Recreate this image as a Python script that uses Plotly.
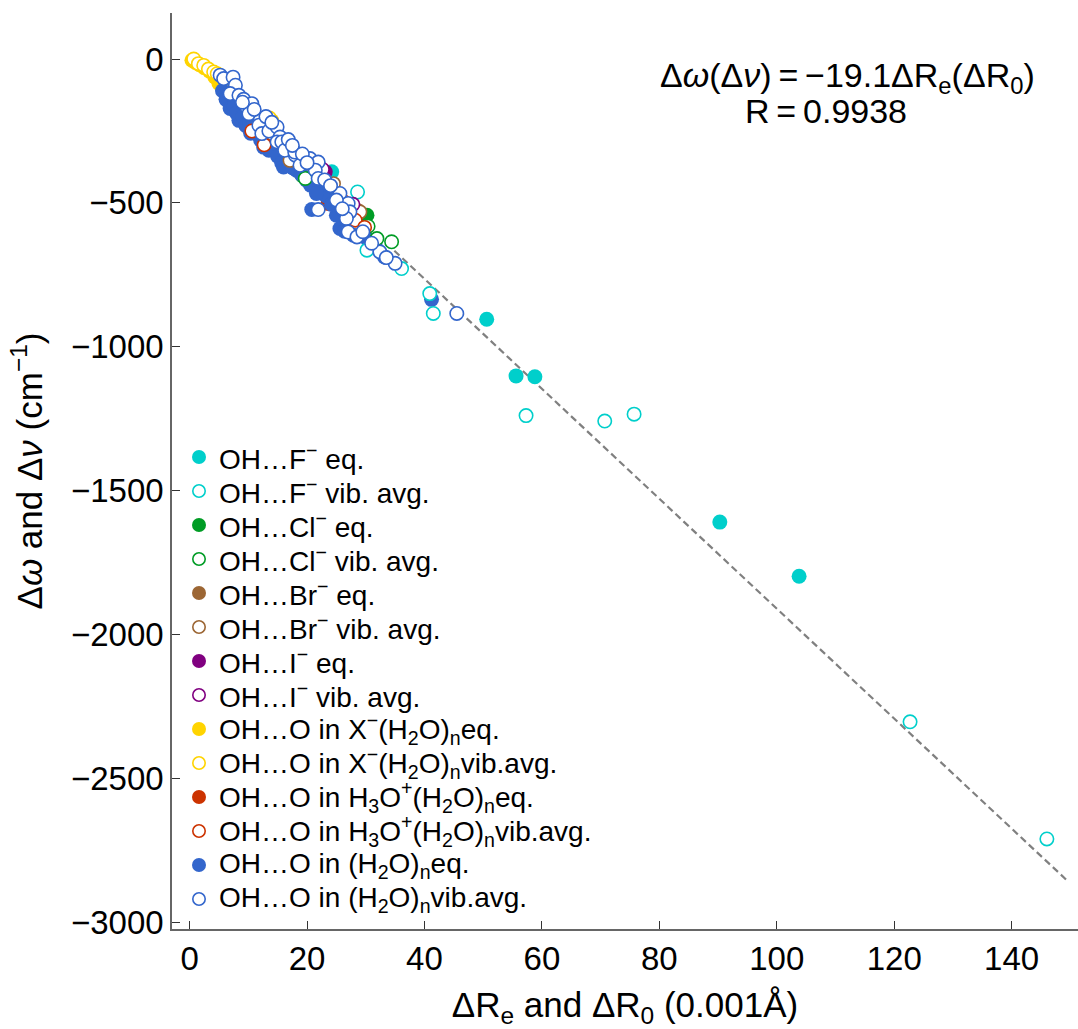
import plotly.graph_objects as go

# ---- Fitted relation: Δω = -19.1 ΔR ----
FIT_SLOPE = -19.1
FIT_X = [33.5, 149.5]

# ---- OH...F- ----
F_EQ_X = [24.2, 50.6, 55.6, 58.8, 90.3, 103.8]
F_EQ_Y = [-392, -904, -1101, -1104, -1609, -1797]
F_VIB_X = [28.6, 30.2, 36.1, 40.9, 41.5, 57.3, 70.7, 75.7, 122.7, 146.0]
F_VIB_Y = [-462, -664, -728, -815, -884, -1239, -1258, -1234, -2303, -2710]

# ---- OH...Cl- ----
CL_EQ_X = [19.2, 24.8, 30.2]
CL_EQ_Y = [-405, -480, -543]
CL_VIB_X = [19.7, 30.4, 31.9, 34.4]
CL_VIB_Y = [-415, -581, -624, -635]

# ---- OH...Br- ----
BR_EQ_X = [16.8, 24.0, 28.5]
BR_EQ_Y = [-345, -440, -525]
BR_VIB_X = [17.1, 24.5, 29.0, 14.2]
BR_VIB_Y = [-352, -433, -531, -262]

# ---- OH...I- ----
I_EQ_X = [23.1, 16.2]
I_EQ_Y = [-392, -330]
I_VIB_X = [22.6, 27.8]
I_VIB_Y = [-383, -505]

# ---- OH...O in X-(H2O)n ----
X_EQ_X = [0.4, 1.0, 1.7, 2.5, 3.4, 4.3, 5.0, 6.2, 14.0, 19.6]
X_EQ_Y = [-4, -12, -20, -30, -42, -62, -85, -100, -215, -395]
X_VIB_X = [0.7, 1.5, 2.4, 3.2, 4.1, 4.7, 13.6]
X_VIB_Y = [0, -16, -22, -35, -45, -51, -205]

# ---- OH...O in H3O+(H2O)n ----
H3O_EQ_X = [10.3, 12.9, 23.6, 26.8, 9.6]
H3O_EQ_Y = [-242, -294, -502, -520, -228]
H3O_VIB_X = [28.2, 10.6, 12.7, 26.2, 29.8]
H3O_VIB_Y = [-560, -250, -298, -495, -585]

# ---- OH...O in (H2O)n ----
H2O_EQ_X = [5.6, 6.2, 6.9, 7.6, 8.4, 8.0, 9.1, 9.6, 10.4, 11.2, 12.1, 12.6, 13.5,
            14.3, 15.0, 15.7, 16.0, 16.8, 17.6, 18.2, 19.0, 19.9, 20.6, 21.6, 22.4,
            23.2, 20.8, 21.6, 24.2, 25.0, 25.6, 26.4, 27.9, 30.2, 31.6, 33.2, 41.2,
            10.2, 13.2, 17.2, 25.2, 27.2]
H2O_EQ_Y = [-110, -140, -172, -165, -213, -188, -200, -232, -258, -250, -282, -306, -317,
            -300, -338, -362, -375, -352, -378, -386, -400, -421, -438, -450, -458,
            -475, -523, -467, -505, -543, -589, -598, -612, -624, -652, -688, -835,
            -215, -272, -330, -512, -560]
H2O_VIB_X = [5.2, 5.8, 7.4, 7.8, 6.9, 8.4, 9.2, 9.8, 10.6, 10.1, 12.0, 11.8, 12.3, 13.5,
             14.9, 15.4, 14.9, 15.7, 16.2, 18.0, 17.9, 18.8, 20.5, 21.9, 21.4, 21.9,
             21.9, 25.6, 27.0, 27.3, 26.7, 27.0, 28.5, 32.4, 35.0, 45.5,
             9.0, 11.0, 13.0, 14.0, 16.8, 17.5, 19.2, 20.0, 23.0, 24.0, 25.0, 26.0,
             29.5, 31.0, 33.5]
H2O_VIB_Y = [-56, -68, -63, -91, -120, -126, -140, -170, -155, -190, -213, -230, -259, -250,
             -236, -271, -288, -288, -317, -334, -323, -369, -346, -358, -386, -415,
             -523, -467, -502, -531, -554, -601, -618, -670, -710, -884,
             -150, -175, -200, -220, -280, -300, -330, -360, -420, -440, -490, -520,
             -600, -640, -690]

SERIES_NAMES = [
    "OH…F<sup>−</sup> eq.",
    "OH…F<sup>−</sup> vib. avg.",
    "OH…Cl<sup>−</sup> eq.",
    "OH…Cl<sup>−</sup> vib. avg.",
    "OH…Br<sup>−</sup> eq.",
    "OH…Br<sup>−</sup> vib. avg.",
    "OH…I<sup>−</sup> eq.",
    "OH…I<sup>−</sup> vib. avg.",
    "OH…O in X<sup>−</sup>(H<sub>2</sub>O)<sub>n</sub>eq.",
    "OH…O in X<sup>−</sup>(H<sub>2</sub>O)<sub>n</sub>vib.avg.",
    "OH…O in H<sub>3</sub>O<sup>+</sup>(H<sub>2</sub>O)<sub>n</sub>eq.",
    "OH…O in H<sub>3</sub>O<sup>+</sup>(H<sub>2</sub>O)<sub>n</sub>vib.avg.",
    "OH…O in (H<sub>2</sub>O)<sub>n</sub>eq.",
    "OH…O in (H<sub>2</sub>O)<sub>n</sub>vib.avg.",
]

X_TICKS = [0, 20, 40, 60, 80, 100, 120, 140]
Y_TICKS = [0, -500, -1000, -1500, -2000, -2500, -3000]

CYAN = "#00CFCB"
GREEN = "#009C25"
BROWN = "#9C6634"
PURPLE = "#800080"
GOLD = "#FFD400"
RED = "#CC3300"
BLUE = "#3366CC"

# legend order
series = [
    (F_EQ_X, F_EQ_Y, CYAN, True),
    (F_VIB_X, F_VIB_Y, CYAN, False),
    (CL_EQ_X, CL_EQ_Y, GREEN, True),
    (CL_VIB_X, CL_VIB_Y, GREEN, False),
    (BR_EQ_X, BR_EQ_Y, BROWN, True),
    (BR_VIB_X, BR_VIB_Y, BROWN, False),
    (I_EQ_X, I_EQ_Y, PURPLE, True),
    (I_VIB_X, I_VIB_Y, PURPLE, False),
    (X_EQ_X, X_EQ_Y, GOLD, True),
    (X_VIB_X, X_VIB_Y, GOLD, False),
    (H3O_EQ_X, H3O_EQ_Y, RED, True),
    (H3O_VIB_X, H3O_VIB_Y, RED, False),
    (H2O_EQ_X, H2O_EQ_Y, BLUE, True),
    (H2O_VIB_X, H2O_VIB_Y, BLUE, False),
]

FONT = "Liberation Sans, Arial, sans-serif"
W, H = 1078, 1029
M_L, M_R, M_T, M_B = 172, 0, 13, 100
PW, PH = W - M_L - M_R, H - M_T - M_B
THIN = "\u2009"


def marker_style(color, filled, size=15):
    if filled:
        return dict(size=size, color=color, line=dict(width=0))
    return dict(size=size - 1.6, color="white", line=dict(color=color, width=1.6))


fig = go.Figure()

# dashed fit line, drawn beneath the markers
fig.add_trace(go.Scatter(
    x=FIT_X, y=[FIT_SLOPE * v for v in FIT_X], mode="lines",
    line=dict(color="#808080", width=2.2, dash="7px,4px"),
    showlegend=False, hoverinfo="skip"))

# equilibrium (filled) sets first, vibrationally averaged (open) sets on top
draw_order = [i for i in range(len(series)) if series[i][3]] + \
             [i for i in range(len(series)) if not series[i][3]]
for i in draw_order:
    xs, ys, color, filled = series[i]
    fig.add_trace(go.Scatter(
        x=xs, y=ys, mode="markers", name=SERIES_NAMES[i],
        marker=marker_style(color, filled), showlegend=False))

# legend, laid out on an overlay axis in unit coordinates
LEG_X_PX = 199
LEG_TOP_PX = 457
LEG_STEP_PX = 34
annotations = []
for i, ((xs, ys, color, filled), name) in enumerate(zip(series, SERIES_NAMES)):
    ypx = LEG_TOP_PX + LEG_STEP_PX * i
    yp = (H - M_B - ypx) / PH
    xp = (LEG_X_PX - M_L) / PW
    fig.add_trace(go.Scatter(
        x=[xp], y=[yp], mode="markers", xaxis="x2", yaxis="y2",
        marker=marker_style(color, filled, size=14),
        showlegend=False, hoverinfo="skip"))
    annotations.append(dict(
        x=(LEG_X_PX + 18 - M_L) / PW, y=yp, xref="paper", yref="paper",
        xanchor="left", yanchor="middle", showarrow=False, text=name,
        font=dict(family=FONT, size=28, color="black")))

annotations.append(dict(
    x=(847 - M_L) / PW, y=(H - M_B - 77) / PH, xref="paper", yref="paper",
    xanchor="center", yanchor="middle", showarrow=False,
    text=f"Δ<i>ω</i>(Δ<i>ν</i>){THIN}={THIN}−19.1ΔR<sub>e</sub>(ΔR<sub>0</sub>)",
    font=dict(family=FONT, size=34, color="black")))
annotations.append(dict(
    x=(826 - M_L) / PW, y=(H - M_B - 111) / PH, xref="paper", yref="paper",
    xanchor="center", yanchor="middle", showarrow=False,
    text=f"R{THIN}={THIN}0.9938",
    font=dict(family=FONT, size=34, color="black")))

axis_common = dict(
    showgrid=False, zeroline=False, showline=True, linecolor="#666666", linewidth=1.5,
    ticks="inside", ticklen=8, tickwidth=1.3, tickcolor="#333333",
    tickfont=dict(family=FONT, size=33, color="black"),
)

fig.update_layout(
    width=W, height=H,
    margin=dict(l=M_L, r=M_R, t=M_T, b=M_B),
    paper_bgcolor="white", plot_bgcolor="white",
    showlegend=False,
    xaxis=dict(
        range=[-3.0, 151.3], tickvals=X_TICKS, ticktext=[str(v) for v in X_TICKS],
        title=dict(text="ΔR<sub>e</sub> and ΔR<sub>0</sub> (0.001Å)",
                   font=dict(family=FONT, size=35, color="black"), standoff=18),
        **axis_common),
    yaxis=dict(
        range=[-3023, 160], tickvals=Y_TICKS,
        ticktext=[("−" + str(-v)) if v < 0 else str(v) for v in Y_TICKS],
        title=dict(text="Δ<i>ω</i> and Δ<i>ν</i> (cm<sup>−1</sup>)",
                   font=dict(family=FONT, size=35, color="black"), standoff=18),
        **axis_common),
    xaxis2=dict(overlaying="x", anchor="y2", range=[0, 1], visible=False),
    yaxis2=dict(overlaying="y", anchor="x2", range=[0, 1], visible=False),
    annotations=annotations,
)

fig.write_html("out.html")
